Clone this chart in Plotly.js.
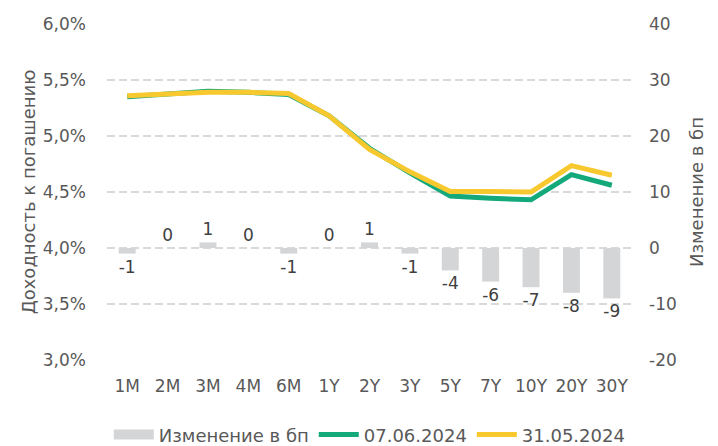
<!DOCTYPE html>
<html><head><meta charset="utf-8">
<script src="https://cdn.plot.ly/plotly-3.0.1.min.js"></script>
<style>body{margin:0;padding:0;background:#fff}#c{width:718px;height:446px}</style>
</head><body><div id="c"></div>
<script>
const categories = ['1M','2M','3M','4M','6M','1Y','2Y','3Y','5Y','7Y','10Y','20Y','30Y'];
const changeBp = [-1,0,1,0,-1,0,1,-1,-4,-6,-7,-8,-9];
const yield0706 = [0.0535,0.0538,0.0540,0.0539,0.0537,0.0518,0.0489,0.0467,0.04465,0.04445,0.0443,0.04655,0.0456];
const yield3105 = [0.0536,0.0538,0.0539,0.0539,0.0538,0.0518,0.0488,0.0468,0.04505,0.04505,0.0450,0.04735,0.0465];
const seriesNames = ['Изменение в бп','07.06.2024','31.05.2024'];
const bpTickVals = [-20,-10,0,10,20,30,40];
const bpTickText = ['-20','-10','0','10','20','30','40'];

const font = 'Verdana, "DejaVu Sans", sans-serif';
const txt = '#595959';
const fs = 17;
const barColor = '#d4d5d7';

const traces = [
  {type:'bar', x:categories, y:changeBp, name:seriesNames[0], yaxis:'y2', showlegend:false,
   marker:{color:barColor}, width:0.42,
   text:changeBp.map(String), textposition:'outside', cliponaxis:false,
   textfont:{family:font,size:fs,color:'#404040'}, hoverinfo:'skip'},
  {type:'scatter', mode:'lines', x:[null], y:[null], name:seriesNames[0], yaxis:'y2',
   line:{color:barColor, width:12}, hoverinfo:'skip'},
  {type:'scatter', mode:'lines', x:categories, y:yield0706, name:seriesNames[1],
   line:{color:'#13a97b', width:5}},
  {type:'scatter', mode:'lines', x:categories, y:yield3105, name:seriesNames[2],
   line:{color:'#f8c92f', width:5}}
];

const layout = {
  width:718, height:446,
  margin:{l:107, r:86, t:24, b:86, autoexpand:false},
  paper_bgcolor:'#fff', plot_bgcolor:'#fff',
  separators:', ',
  font:{family:font, size:fs, color:txt},
  showlegend:true,
  legend:{orientation:'h', xref:'container', yref:'container', x:0.515, xanchor:'center',
          y:0.025, yanchor:'middle',
          font:{family:font,size:18,color:txt}, traceorder:'normal', itemwidth:40},
  xaxis:{type:'category', showgrid:false, zeroline:false, showline:false,
         ticks:'', tickfont:{family:font,size:fs,color:txt}, ticklabelstandoff:14},
  yaxis:{range:[0.03,0.06], dtick:0.005, tickformat:'.1%', showgrid:true,
         gridcolor:'#d9d9d9', griddash:'8px,4px', gridwidth:1.3, zeroline:false,
         ticks:'inside', ticklen:8, tickcolor:'#d9d9d9',
         tickfont:{family:font,size:fs,color:txt}, ticklabelstandoff:20,
         title:{text:'Доходность к погашению', font:{family:font,size:18,color:txt}, standoff:2}},
  yaxis2:{range:[-20,40], tickmode:'array', tickvals:bpTickVals, ticktext:bpTickText,
          overlaying:'y', side:'right', showgrid:false,
          zeroline:false, tickfont:{family:font,size:fs,color:txt}, ticklabelstandoff:16,
          title:{text:'Изменение в бп', font:{family:font,size:18,color:txt}, standoff:14}}
};
Plotly.newPlot('c', traces, layout, {staticPlot:true});
</script></body></html>
